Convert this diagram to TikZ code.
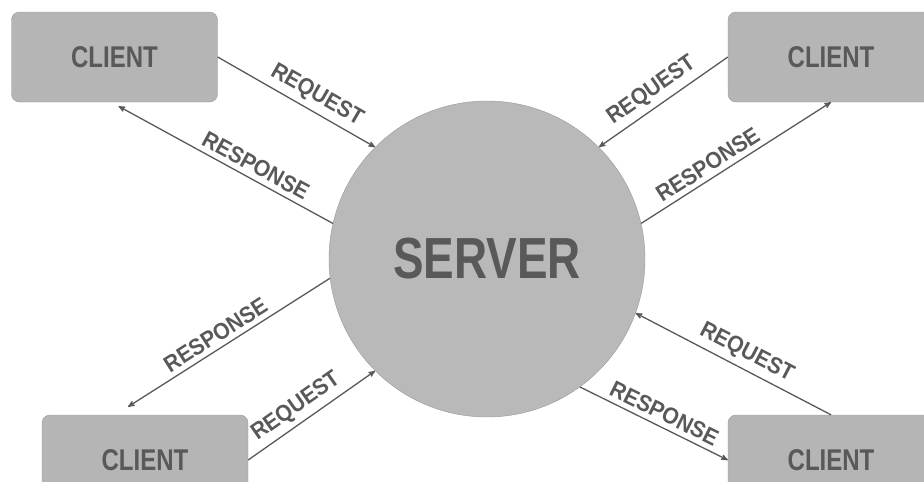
\documentclass[tikz,border=0pt]{standalone}
\usepackage{fontspec}
\usepackage{graphicx}
\newfontfamily\diagfont{Liberation Sans}
\usetikzlibrary{arrows}
\usepackage{xcolor}
\definecolor{boxgray}{HTML}{B5B5B5}
\definecolor{edgegray}{HTML}{999999}
\definecolor{inkgray}{HTML}{595959}
\newcommand\squeeze[2]{\scalebox{#1}[1]{#2}}

\begin{document}
\begin{tikzpicture} [x=1pt,y=-1pt,
  client/.style={draw=edgegray, fill=boxgray, rounded corners=8pt, minimum width=206pt, minimum height=90pt,
    text=inkgray, font=\diagfont\bfseries\fontsize{30}{30}\selectfont},
  server/.style={circle, draw=edgegray, fill=boxgray!95!white, minimum size=316pt, inner sep=0pt,
    text=inkgray, font=\diagfont\bfseries\fontsize{58}{58}\selectfont},
  link/.style={draw=inkgray, line width=1.3pt, ->, >=stealth'},
  lbl/.style={above=3pt, sloped, inner sep=2pt, text=inkgray, font=\diagfont\bfseries\fontsize{23}{23}\selectfont}]
\useasboundingbox (0,0) rectangle (924,482);
\node[server] (server) at (487,259) {\squeeze{.79}{SERVER}};
\node[client] (c1) at (114.5,57) {\squeeze{.8}{CLIENT}};
\node[client] (c2) at (831,57) {\squeeze{.8}{CLIENT}};
\node[client] (c3) at (145,460) {\squeeze{.8}{CLIENT}};
\node[client] (c4) at (831,460) {\squeeze{.8}{CLIENT}};
\coordinate (c1in) at ([xshift=4pt,yshift=-4pt]c1.south);
\coordinate (c3in) at ([xshift=-17pt,yshift=8pt]c3.north);
\foreach \from/\to/\where/\txt in {c1.east/server.135/.58/REQUEST, server.167/c1in/.39/RESPONSE,
  c2.west/server.45/.52/REQUEST, server.13/c2.south/.39/RESPONSE,
  server.187/c3in/.53/RESPONSE, c3.east/server.225/.45/REQUEST,
  c4.north/server.340/.47/REQUEST, server.306/c4.west/.53/RESPONSE}
 \draw[link] (\from) -- node[lbl,pos=\where]{\squeeze{.92}{\txt}} (\to);
\end{tikzpicture}
\end{document}
